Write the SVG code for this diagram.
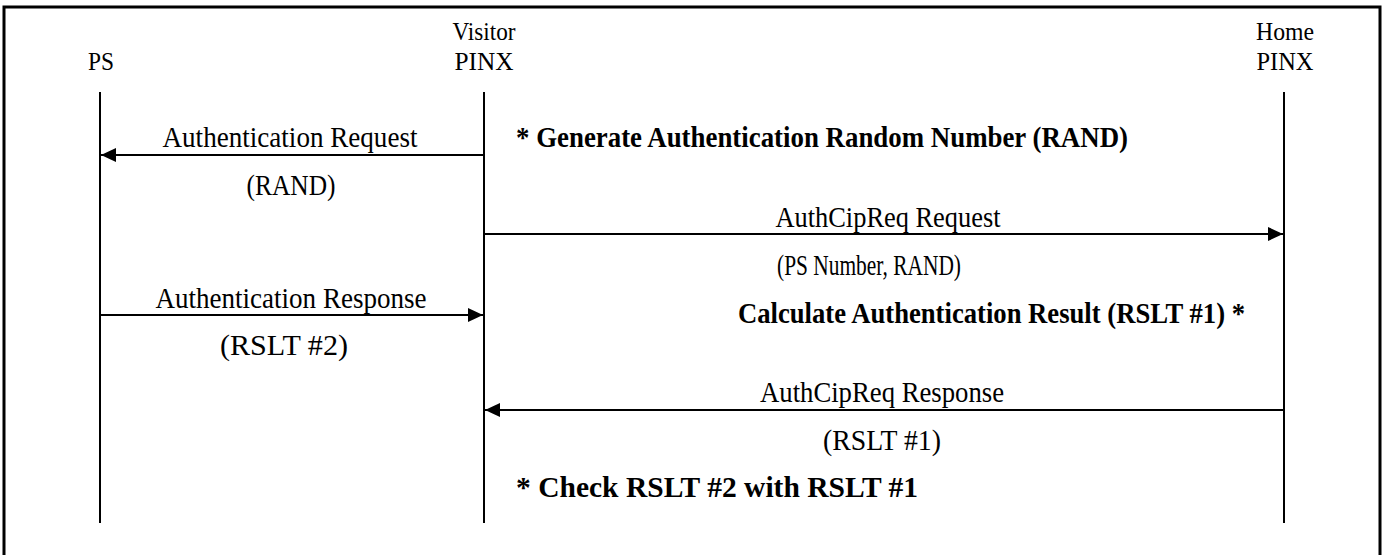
<svg xmlns="http://www.w3.org/2000/svg" width="1386" height="555" viewBox="0 0 1386 555">
<style>
text{font-family:"Liberation Serif","Times New Roman",serif;font-size:29px;fill:#000}
.h{font-size:26px}
.b{font-weight:bold}
.ll{stroke:#000;stroke-width:2;fill:none}
.msg{stroke:#000;stroke-width:2;fill:none;marker-end:url(#ah)}
</style>
<defs>
<marker id="ah" markerUnits="userSpaceOnUse" markerWidth="16" markerHeight="14" refX="15" refY="7" orient="auto">
<path d="M0,0 L15,7 L0,14 Z" fill="#000"/>
</marker>
</defs>
<rect x="0" y="0" width="1386" height="555" fill="#fff"/>
<rect x="4" y="7" width="1376" height="560" fill="none" stroke="#000" stroke-width="3"/>
<g id="ps">
<text class="h" x="101" y="70" text-anchor="middle" textLength="26" lengthAdjust="spacingAndGlyphs">PS</text>
<line class="ll" x1="100" y1="92" x2="100" y2="523"/>
</g>
<g id="visitor">
<text class="h" x="484" y="40" text-anchor="middle" textLength="63" lengthAdjust="spacingAndGlyphs">Visitor</text>
<text class="h" x="484" y="70" text-anchor="middle" textLength="59" lengthAdjust="spacingAndGlyphs">PINX</text>
<line class="ll" x1="484" y1="92" x2="484" y2="523"/>
</g>
<g id="home">
<text class="h" x="1285" y="40" text-anchor="middle" textLength="58" lengthAdjust="spacingAndGlyphs">Home</text>
<text class="h" x="1285" y="70" text-anchor="middle" textLength="57" lengthAdjust="spacingAndGlyphs">PINX</text>
<line class="ll" x1="1284" y1="92" x2="1284" y2="523"/>
</g>
<g id="connectors">
<line class="msg" x1="484" y1="155" x2="101" y2="155"/>
<line class="msg" x1="484" y1="234" x2="1283" y2="234"/>
<line class="msg" x1="100" y1="315" x2="483" y2="315"/>
<line class="msg" x1="1284" y1="410" x2="485" y2="410"/>
</g>
<g id="labels">
<text x="290" y="147" text-anchor="middle" textLength="255" lengthAdjust="spacingAndGlyphs">Authentication Request</text>
<text x="291" y="195" text-anchor="middle" textLength="89" lengthAdjust="spacingAndGlyphs">(RAND)</text>
<text class="b" x="516" y="147" textLength="612" lengthAdjust="spacingAndGlyphs">* Generate Authentication Random Number (RAND)</text>
<text x="888" y="227" text-anchor="middle" textLength="225" lengthAdjust="spacingAndGlyphs">AuthCipReq Request</text>
<text x="869" y="275" text-anchor="middle" font-size="26" textLength="184" lengthAdjust="spacingAndGlyphs">(PS Number, RAND)</text>
<text x="291" y="308" text-anchor="middle" textLength="271" lengthAdjust="spacingAndGlyphs">Authentication Response</text>
<text x="284" y="355" text-anchor="middle" textLength="128" lengthAdjust="spacingAndGlyphs">(RSLT #2)</text>
<text class="b" x="738" y="323" textLength="507" lengthAdjust="spacingAndGlyphs">Calculate Authentication Result (RSLT #1) *</text>
<text x="882" y="402" text-anchor="middle" textLength="244" lengthAdjust="spacingAndGlyphs">AuthCipReq Response</text>
<text x="882" y="450" text-anchor="middle" textLength="118" lengthAdjust="spacingAndGlyphs">(RSLT #1)</text>
<text class="b" x="516" y="497" textLength="402" lengthAdjust="spacingAndGlyphs">* Check RSLT #2 with RSLT #1</text>
</g>
</svg>
